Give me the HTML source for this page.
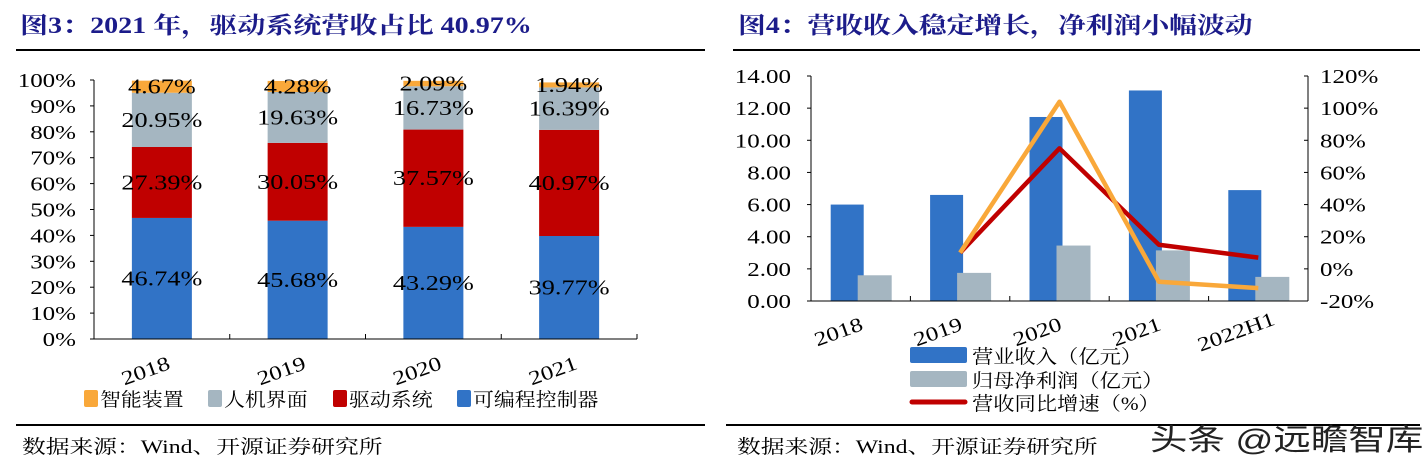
<!DOCTYPE html>
<html><head><meta charset="utf-8"><style>
body{margin:0;width:1426px;height:470px;background:#fff;overflow:hidden;font-family:"Liberation Serif","Noto Serif CJK SC",serif}
svg text{font-family:"Liberation Serif","Noto Serif CJK SC",serif}
</style></head><body>
<svg id="s" width="1426" height="470">
<text transform="translate(20,33) scale(1.22,1)" font-size="23" font-weight="bold" fill="#1c1c8a">图3：2021 年，驱动系统营收占比 40.97%</text>
<line x1="16" y1="50" x2="705" y2="50" stroke="#000" stroke-width="2"/>
<text transform="translate(738,33) scale(1.21,1)" font-size="23" font-weight="bold" fill="#1c1c8a">图4：营收收入稳定增长，净利润小幅波动</text>
<line x1="733" y1="50" x2="1420" y2="50" stroke="#000" stroke-width="2"/>
<line x1="16" y1="425" x2="705" y2="425" stroke="#000" stroke-width="2"/>
<line x1="726" y1="425" x2="1420" y2="425" stroke="#000" stroke-width="2"/>
<text transform="translate(22,453) scale(1.25,1)" font-size="19">数据来源：Wind、开源证券研究所</text>
<text transform="translate(737,453) scale(1.25,1)" font-size="19">数据来源：Wind、开源证券研究所</text>
<text transform="translate(1150,450) scale(1.25,1)" font-size="30" fill="#222" style="font-family:'Liberation Sans','Noto Sans CJK SC',sans-serif">头条 @远瞻智库</text>
<g id="left"></g><g id="right"></g>
</svg>
<script>
const cats1=["2018","2019","2020","2021"];
const plc=[46.74,45.68,43.29,39.77];
const drive=[27.39,30.05,37.57,40.97];
const hmi=[20.95,19.63,16.73,16.39];
const smart=[4.67,4.28,2.09,1.94];
const ticks1=["0%","10%","20%","30%","40%","50%","60%","70%","80%","90%","100%"];
const series1=[["可编程控制器",plc,"#3173c6"],["驱动系统",drive,"#c00000"],["人机界面",hmi,"#a5b6c1"],["智能装置",smart,"#f9a83a"]];

const cats2=["2018","2019","2020","2021","2022H1"];
const revenue=[6.0,6.6,11.45,13.1,6.9];
const profit=[1.6,1.75,3.45,3.15,1.5];
const revGrowth=[null,10,75,15,7];
const profitGrowth=[null,10,104,-8,-12];
const ticksL2=[0,2,4,6,8,10,12,14];
const ticksR2=[-20,0,20,40,60,80,100,120];

const NS="http://www.w3.org/2000/svg";
const SX=1.25;
function mk(p,t,a,txt){const e=document.createElementNS(NS,t);for(const k in a)e.setAttribute(k,a[k]);if(txt!=null)e.textContent=txt;p.appendChild(e);return e;}
function tx(p,x,y,s,size,anchor,rot){const tr=`translate(${x},${y})`+(rot?` rotate(${rot})`:'')+` scale(${SX},1)`;
 return mk(p,'text',{transform:tr,'font-size':size,'text-anchor':anchor||'start'},s);}
// left chart
const L=document.getElementById('left');
const x0=94,x1=637,yT=80,yB=339;
const yl=v=>yB-(yB-yT)*v/100;
const bw=(x1-x0)/cats1.length;
ticks1.forEach((t,i)=>{const y=yl(i*10);
 const e=tx(L,x0-18,y+7,t,20,'end');
 
 
 mk(L,'line',{x1:x0-4,x2:x0,y1:y,y2:y,stroke:'#000'});});
cats1.forEach((c,i)=>{const cx=x0+bw*(i+.5);let acc=0;
 series1.forEach(s=>{const v=s[1][i];const r=mk(L,'rect',{x:cx-30,y:yl(acc+v),width:60,height:yl(acc)-yl(acc+v),fill:s[2]});
  
  
  const lab=tx(L,cx,yl(acc+v/2)+7,v.toFixed(2)+'%',21,'middle');
  
  
  acc+=v;});
 const t=tx(L,cx-14,377,c,20,'middle',-20);
 
 
});
for(let i=0;i<=cats1.length;i++){const x=x0+bw*i;mk(L,'line',{x1:x,x2:x,y1:yB,y2:yB-5,stroke:'#000'});}
mk(L,'line',{x1:x0,x2:x0,y1:yT,y2:yB,stroke:'#000'});
mk(L,'line',{x1:x0,x2:x1,y1:yB,y2:yB,stroke:'#000'});
const legX=[84,208,333,457];
[3,2,1,0].forEach((si,k)=>{const s=series1[si];
 const r=mk(L,'rect',{x:legX[k],y:390,width:14,height:17,rx:2,fill:s[2]});
 
 
 const t=mk(L,'text',{transform:`translate(${legX[k]+16},406) scale(1.1,1)`,'font-size':19},s[0]);
 
 });
// right chart
const R=document.getElementById('right');
const a0=811,a1=1308,t2=76,b2=301;
const yv=v=>b2-(b2-t2)*v/14;
const yp=v=>b2-(b2-t2)*(v+20)/140;
const cw=(a1-a0)/cats2.length;
ticksL2.forEach(v=>{const y=yv(v);
 const e=tx(R,a0-20,y+7,v.toFixed(2),20,'end');
 
 
 mk(R,'line',{x1:a0-4,x2:a0,y1:y,y2:y,stroke:'#000'});});
ticksR2.forEach(v=>{const y=yp(v);
 const e=tx(R,a1+12,y+7,v+'%',20,'start');
 
 
 mk(R,'line',{x1:a1,x2:a1-4,y1:y,y2:y,stroke:'#000'});});
cats2.forEach((c,i)=>{const cx=a0+cw*(i+.5);
 const r1=mk(R,'rect',{x:cx-30,y:yv(revenue[i]),width:33,height:b2-yv(revenue[i]),fill:'#3173c6'});
 
 
 const r2=mk(R,'rect',{x:cx-3,y:yv(profit[i]),width:34,height:b2-yv(profit[i]),fill:'#a5b6c1'});
 
 
 const t=tx(R,cx-20,338,c,20,'middle',-20);
 
 
});
for(let i=0;i<=cats2.length;i++){const x=a0+cw*i;mk(R,'line',{x1:x,x2:x,y1:b2,y2:b2-5,stroke:'#000'});}
mk(R,'line',{x1:a0,x2:a0,y1:t2,y2:b2,stroke:'#000'});
mk(R,'line',{x1:a1,x2:a1,y1:t2,y2:b2,stroke:'#000'});
mk(R,'line',{x1:a0,x2:a1,y1:b2,y2:b2,stroke:'#000'});
function line(arr,col,name){let d='';arr.forEach((v,i)=>{if(v==null)return;const x=a0+cw*(i+.5);d+=(d?'L':'M')+x+','+yp(v);});
 const p=mk(R,'path',{d:d,fill:'none',stroke:col,'stroke-width':4.5,'stroke-linejoin':'round'});
 
 }
line(revGrowth,'#c00000','revenue-growth-line');
line(profitGrowth,'#f9a83a','profit-growth-line');
const lg=[["营业收入（亿元）",'#3173c6',347],["归母净利润（亿元）",'#a5b6c1',371]];
lg.forEach(l=>{const r=mk(R,'rect',{x:910,y:l[2],width:57,height:16,rx:2,fill:l[1]});
 
 
 const t=mk(R,'text',{transform:`translate(972,${l[2]+16}) scale(1.12,1)`,'font-size':19},l[0]);
 
 });
const ll=mk(R,'line',{x1:912,x2:965,y1:402,y2:402,stroke:'#c00000','stroke-width':5,'stroke-linecap':'round'});


const lt=mk(R,'text',{transform:'translate(972,410) scale(1.12,1)','font-size':19},"营收同比增速（%）");


</script>
</body></html>
